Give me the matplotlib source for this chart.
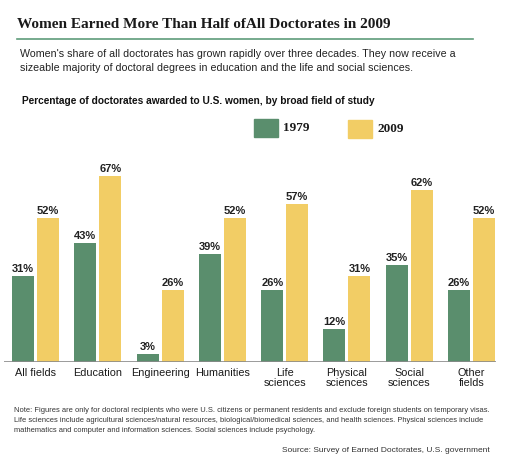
import matplotlib
matplotlib.use("Agg")
from matplotlib import pyplot as plt
from matplotlib.patches import Rectangle
from matplotlib.lines import Line2D
import numpy as np

# Datos
# ========================================
categorias = ["All fields", "Education", "Engineering", "Humanities",
              "Life\nsciences", "Physical\nsciences", "Social\nsciences",
              "Other\nfields"]
valores_1979 = [31, 43, 3, 39, 26, 12, 35, 26]
valores_2009 = [52, 67, 26, 52, 57, 31, 62, 52]
etiquetas_serie = ["1979", "2009"]

# Estilo
# ========================================
W, H = 510, 465
verde = "#5a8e6d"
amarillo = "#f2cd65"
sans = "Liberation Sans"
serif = "Liberation Serif"

fig = plt.figure(figsize=(W / 100, H / 100), dpi=100)

def px(x, y):
    # Convierte píxeles (origen arriba a la izquierda) a fracción de figura
    return x / W, 1 - y / H

# Ejes del gráfico de barras
x0, x1 = 4, 496
ytop, ybase = 150, 362
ax = fig.add_axes([x0 / W, 1 - ybase / H, (x1 - x0) / W, (ybase - ytop) / H])
paso = 62.3
ax.set_xlim((x0 - 35.5) / paso, (x1 - 35.5) / paso)
ax.set_ylim(0, (ybase - ytop) / 2.776)

x = np.arange(len(categorias))
ancho = 22 / paso
desp = 12.5 / paso
b1 = ax.bar(x - desp, valores_1979, ancho, color=verde)
b2 = ax.bar(x + desp, valores_2009, ancho, color=amarillo)

for barras in (b1, b2):
    for b in barras:
        ax.annotate("{}%".format(int(b.get_height())),
                    (b.get_x() + b.get_width() / 2, b.get_height()),
                    xytext=(0, 1.5), textcoords="offset points",
                    ha="center", va="bottom", fontsize=8,
                    fontweight="bold", family=sans, color="#222222")

for s in ax.spines.values():
    s.set_visible(False)
ax.axhline(0, color="#8a8a8a", lw=1.2)
ax.set_yticks([])
ax.set_xticks(x)
ax.set_xticklabels(categorias, fontsize=7.8, family=sans, color="#1a1a1a",
                   linespacing=1.05)
ax.tick_params(axis="x", length=0, pad=4)

# Título y textos
# ========================================
fig.text(*px(17, 28), "Women Earned More Than Half ofAll Doctorates in 2009",
         family=serif, fontweight="bold", fontsize=11, color="#1a1a1a",
         va="baseline")
fig.add_artist(Line2D([17 / W, 473 / W], [1 - 39 / H, 1 - 39 / H],
                      color="#5f9c7a", lw=1.2))
fig.text(*px(20, 57),
         "Women's share of all doctorates has grown rapidly over three decades. They now receive a",
         family=sans, fontsize=7.65, color="#222222", va="baseline")
fig.text(*px(20, 71),
         "sizeable majority of doctoral degrees in education and the life and social sciences.",
         family=sans, fontsize=7.65, color="#222222", va="baseline")
fig.text(*px(22, 104),
         "Percentage of doctorates awarded to U.S. women, by broad field of study",
         family=sans, fontsize=7.28, fontweight="bold", color="#111111",
         va="baseline")

# Leyenda
for (lx, ly), color, txt in zip([(254, 119), (348, 120)], [verde, amarillo],
                                etiquetas_serie):
    fig.add_artist(Rectangle((lx / W, 1 - (ly + 18) / H), 24 / W, 18 / H,
                             color=color, transform=fig.transFigure))
    fig.text(*px(lx + 29, ly + 12), txt, family=serif, fontweight="bold",
             fontsize=9.5, color="#1a1a1a", va="baseline")

# Notas
notas = ["Note: Figures are only for doctoral recipients who were U.S. citizens or permanent residents and exclude foreign students on temporary visas.",
         "Life sciences include agricultural sciences/natural resources, biological/biomedical sciences, and health sciences. Physical sciences include",
         "mathematics and computer and information sciences. Social sciences include psychology."]
for i, n in enumerate(notas):
    fig.text(*px(14, 410 + 10 * i), n, family=sans, fontsize=5.45,
             color="#333333", va="center")
fig.text(*px(490, 450), "Source: Survey of Earned Doctorates, U.S. government",
         family=sans, fontsize=6.05, color="#333333", va="center", ha="right")

fig.savefig("out.png", dpi=100)
